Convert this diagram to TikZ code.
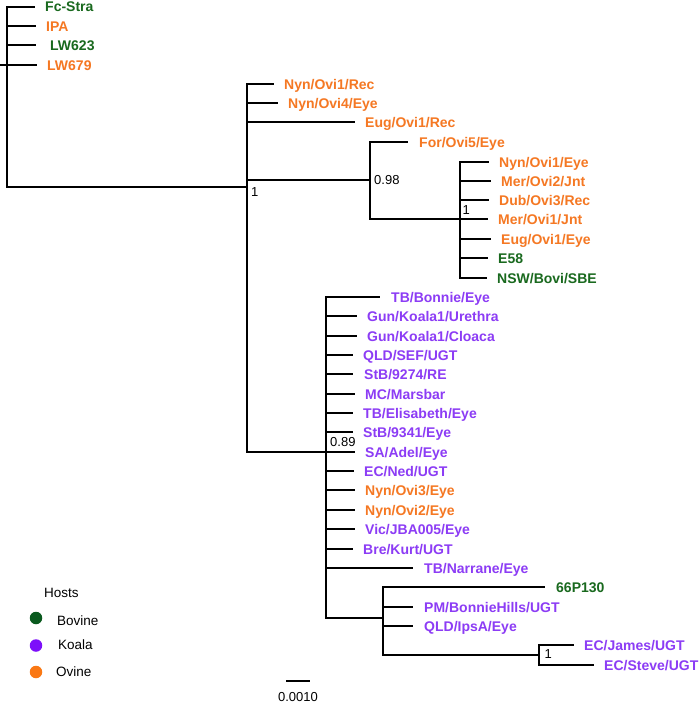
\documentclass[tikz,border=0pt]{standalone}
\usepackage{fontspec}
\setmainfont{Liberation Sans}
\definecolor{bov}{RGB}{25,105,30}
\definecolor{koa}{RGB}{140,60,245}
\definecolor{ovi}{RGB}{245,120,35}
\definecolor{bovdot}{RGB}{10,90,30}
\definecolor{koadot}{RGB}{125,15,250}
\definecolor{ovidot}{RGB}{250,120,20}
\begin{document}
\begin{tikzpicture}[x=1pt,y=-1pt,
  br/.style={line width=1.9pt},
  leaf/.style={anchor=west, inner xsep=10pt, inner ysep=0pt, text height=10pt, text depth=0pt,
    font=\bfseries\fontsize{14}{15}\selectfont},
  supp/.style={anchor=west, inner sep=0pt, text height=9.3pt, text depth=0pt,
    font=\fontsize{13}{14}\selectfont},
  legtext/.style={supp, font=\fontsize{13.5}{15}\selectfont, text height=9.7pt},
  dot/.style={circle, inner sep=0pt, minimum size=12.5pt}]
\useasboundingbox (0,0) rectangle (700,704);
\fill[white] (0,0) rectangle (700,704);

% internal nodes
\coordinate (stub) at (0,65);
\coordinate (R) at (7,65);
\coordinate (A) at (247,187);
\coordinate (B) at (370,180);
\coordinate (D) at (460,219);
\coordinate (C) at (326,452);
\coordinate (E) at (383,618);
\coordinate (F) at (539,655);

% root leaves
\node[leaf,text=bov] (fc) at (35,7) {Fc-Stra};
\node[leaf,text=ovi] (ipa) at (36,26) {IPA};
\node[leaf,text=bov,inner xsep=14pt] (lw623) at (36,45) {LW623};
\node[leaf,text=ovi] (lw679) at (37,65) {LW679};

% A leaves
\node[leaf,text=ovi] (a1) at (274,84) {Nyn/Ovi1/Rec};
\node[leaf,text=ovi] (a2) at (278,103) {Nyn/Ovi4/Eye};
\node[leaf,text=ovi] (a3) at (355,122) {Eug/Ovi1/Rec};
% B leaves
\node[leaf,text=ovi,inner xsep=11pt] (b1) at (408,142) {For/Ovi5/Eye};
% D leaves
\node[leaf,text=ovi] (d1) at (489,162) {Nyn/Ovi1/Eye};
\node[leaf,text=ovi] (d2) at (491,181) {Mer/Ovi2/Jnt};
\node[leaf,text=ovi] (d3) at (489,200) {Dub/Ovi3/Rec};
\node[leaf,text=ovi] (d4) at (488,219) {Mer/Ovi1/Jnt};
\node[leaf,text=ovi] (d5) at (491,239) {Eug/Ovi1/Eye};
\node[leaf,text=bov] (d6) at (488,258) {E58};
\node[leaf,text=bov] (d7) at (487,278) {NSW/Bovi/SBE};
% C leaves
\node[leaf,text=koa,inner xsep=11pt] (c0) at (380,297) {TB/Bonnie/Eye};
\node[leaf,text=koa] (c1) at (357,316) {Gun/Koala1/Urethra};
\node[leaf,text=koa] (c2) at (357,336) {Gun/Koala1/Cloaca};
\node[leaf,text=koa] (c3) at (353,355) {QLD/SEF/UGT};
\node[leaf,text=koa,inner xsep=11pt] (c4) at (353,374) {StB/9274/RE};
\node[leaf,text=koa] (c5) at (355,394) {MC/Marsbar};
\node[leaf,text=koa] (c6) at (353,413) {TB/Elisabeth/Eye};
\node[leaf,text=koa] (c7) at (353,432) {StB/9341/Eye};
\node[leaf,text=koa] (c8) at (355,452) {SA/Adel/Eye};
\node[leaf,text=koa] (c9) at (354,471) {EC/Ned/UGT};
\node[leaf,text=ovi] (c10) at (355,490) {Nyn/Ovi3/Eye};
\node[leaf,text=ovi] (c11) at (355,510) {Nyn/Ovi2/Eye};
\node[leaf,text=koa] (c12) at (355,529) {Vic/JBA005/Eye};
\node[leaf,text=koa] (c13) at (353,549) {Bre/Kurt/UGT};
\node[leaf,text=koa,inner xsep=11pt] (c14) at (413,568) {TB/Narrane/Eye};
% E leaves
\node[leaf,text=bov,inner xsep=11pt] (e1) at (545,587) {66P130};
\node[leaf,text=koa,inner xsep=11pt] (e2) at (413,607) {PM/BonnieHills/UGT};
\node[leaf,text=koa,inner xsep=11pt] (e3) at (413,626) {QLD/IpsA/Eye};
% F leaves
\node[leaf,text=koa] (f1) at (574,645) {EC/James/UGT};
\node[leaf,text=koa] (f2) at (594,665) {EC/Steve/UGT};

% branches
\draw[br] (stub) -- (R);
\foreach \t in {fc,ipa,lw623,lw679} \draw[br] (R) |- (\t.west);
\draw[br] (R) |- (A);
\foreach \t in {a1,a2,a3} \draw[br] (A) |- (\t.west);
\draw[br] (A) |- (B);
\draw[br] (A) |- (C);
\draw[br] (B) |- (b1.west);
\draw[br] (B) |- (D);
\foreach \t in {d1,d2,d3,d4,d5,d6,d7} \draw[br] (D) |- (\t.west);
\foreach \t in {c0,c1,c2,c3,c4,c5,c6,c7,c8,c9,c10,c11,c12,c13,c14} \draw[br] (C) |- (\t.west);
\draw[br] (C) |- (E);
\foreach \t in {e1,e2,e3} \draw[br] (E) |- (\t.west);
\draw[br] (E) |- (F);
\foreach \t in {f1,f2} \draw[br] (F) |- (\t.west);

% support values
\node[supp] (sA) at (251,192) {1};
\node[supp] (sB) at (374,180) {0.98};
\node[supp] (sD) at (462.5,210) {1};
\node[supp] (sC) at (330,442) {0.89};
\node[supp] (sF) at (544.5,654) {1};

% scale bar
\coordinate (s1) at (286,681);
\coordinate (s2) at (310,681);
\draw[br] (s1) -- (s2);
\node[supp,anchor=center] (sl) at (298,697) {0.0010};

% legend
\node[legtext] (hosts) at (44,593) {Hosts};
\node[dot,fill=bovdot] (g1) at (36,618) {};
\node[dot,fill=koadot] (g2) at (36,645.5) {};
\node[dot,fill=ovidot] (g3) at (36,672) {};
\node[legtext] (l1) at (57,620.5) {Bovine};
\node[legtext] (l2) at (58,645) {Koala};
\node[legtext] (l3) at (56,671.5) {Ovine};
\end{tikzpicture}
\end{document}
